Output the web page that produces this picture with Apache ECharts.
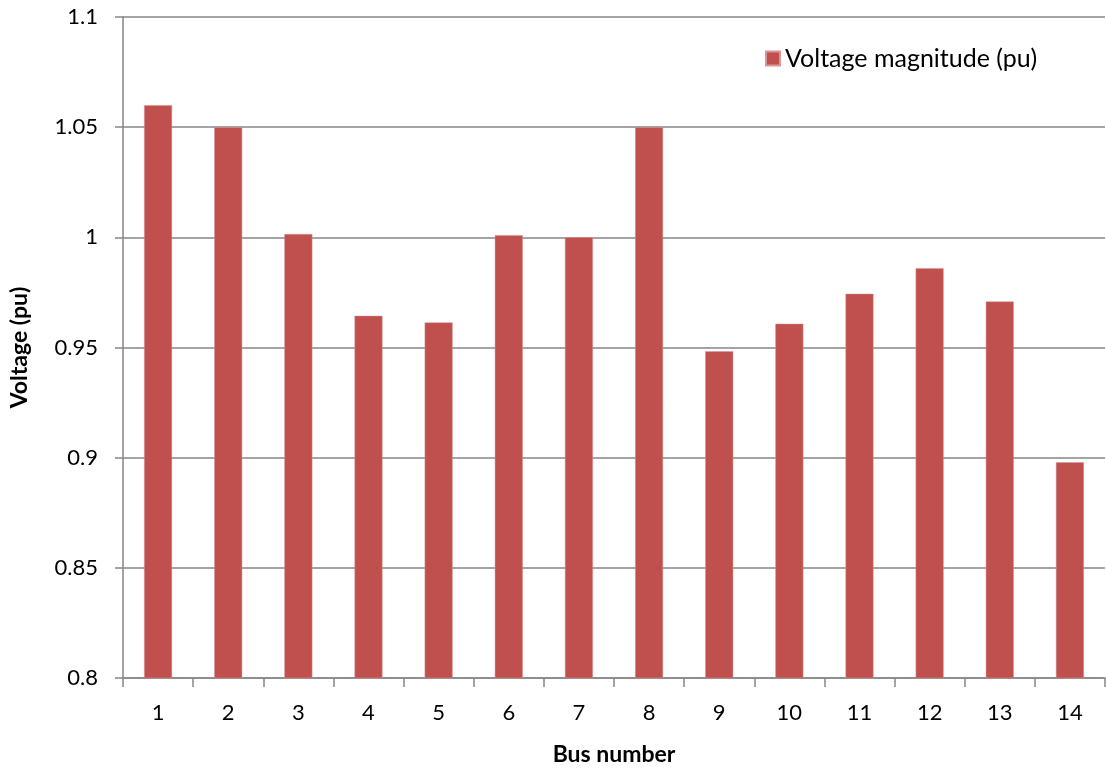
<!DOCTYPE html>
<html><head><meta charset="utf-8">
<script src="https://cdn.jsdelivr.net/npm/echarts@6/dist/echarts.min.js"></script>
<style>html,body{margin:0;padding:0;background:#fff}#c{width:1106px;height:771px}</style>
</head><body><div id="c"></div>
<script>
const categories = ['1','2','3','4','5','6','7','8','9','10','11','12','13','14'];
const voltage = [1.06, 1.05, 1.0015, 0.9644, 0.9614, 1.001, 1.0, 1.05, 0.9483, 0.9608, 0.9744, 0.986, 0.9709, 0.8979];
const seriesName = 'Voltage magnitude (pu)';
const xTitle = 'Bus number';
const yTitle = 'Voltage (pu)';

const font = 'Lato, "Open Sans", sans-serif';
const chart = echarts.init(document.getElementById('c'), null, {renderer: 'canvas'});
chart.setOption({
  animation: false,
  backgroundColor: '#fff',
  grid: {left: 114, right: 1, top: 17, bottom: 88, containLabel: false},
  legend: {
    data: [seriesName], left: 760, top: 41, icon: 'rect', itemWidth: 14, itemHeight: 14, itemGap: 6,
    textStyle: {fontFamily: font, fontSize: 25, color: '#000'}
  },
  xAxis: {
    type: 'category', data: categories,
    name: xTitle, nameLocation: 'middle', nameGap: 65,
    nameTextStyle: {fontFamily: font, fontSize: 23, fontWeight: 'bold', color: '#000'},
    axisLine: {lineStyle: {color: '#868686', width: 1.5}},
    axisTick: {show: true, alignWithLabel: false, length: 9, lineStyle: {color: '#868686', width: 1.5}},
    axisLabel: {fontFamily: font, fontSize: 22, color: '#000', margin: 24}
  },
  yAxis: {
    type: 'value', min: 0.8, max: 1.1, interval: 0.05,
    name: yTitle, nameLocation: 'middle', nameGap: 92, nameRotate: 90,
    nameTextStyle: {fontFamily: font, fontSize: 23, fontWeight: 'bold', color: '#000'},
    axisLine: {show: true, lineStyle: {color: '#868686', width: 1.5}},
    axisTick: {show: true, length: 8, lineStyle: {color: '#868686', width: 1.5}},
    axisLabel: {fontFamily: font, fontSize: 22, color: '#000', margin: 25,
      formatter: v => String(Math.round(v * 100) / 100)},
    splitLine: {lineStyle: {color: '#868686', width: 1.5}}
  },
  series: [{
    name: seriesName, type: 'bar', data: voltage, barWidth: 28,
    itemStyle: {color: '#C0504D', borderColor: '#D99694', borderWidth: 0.5}
  }]
});
</script></body></html>
